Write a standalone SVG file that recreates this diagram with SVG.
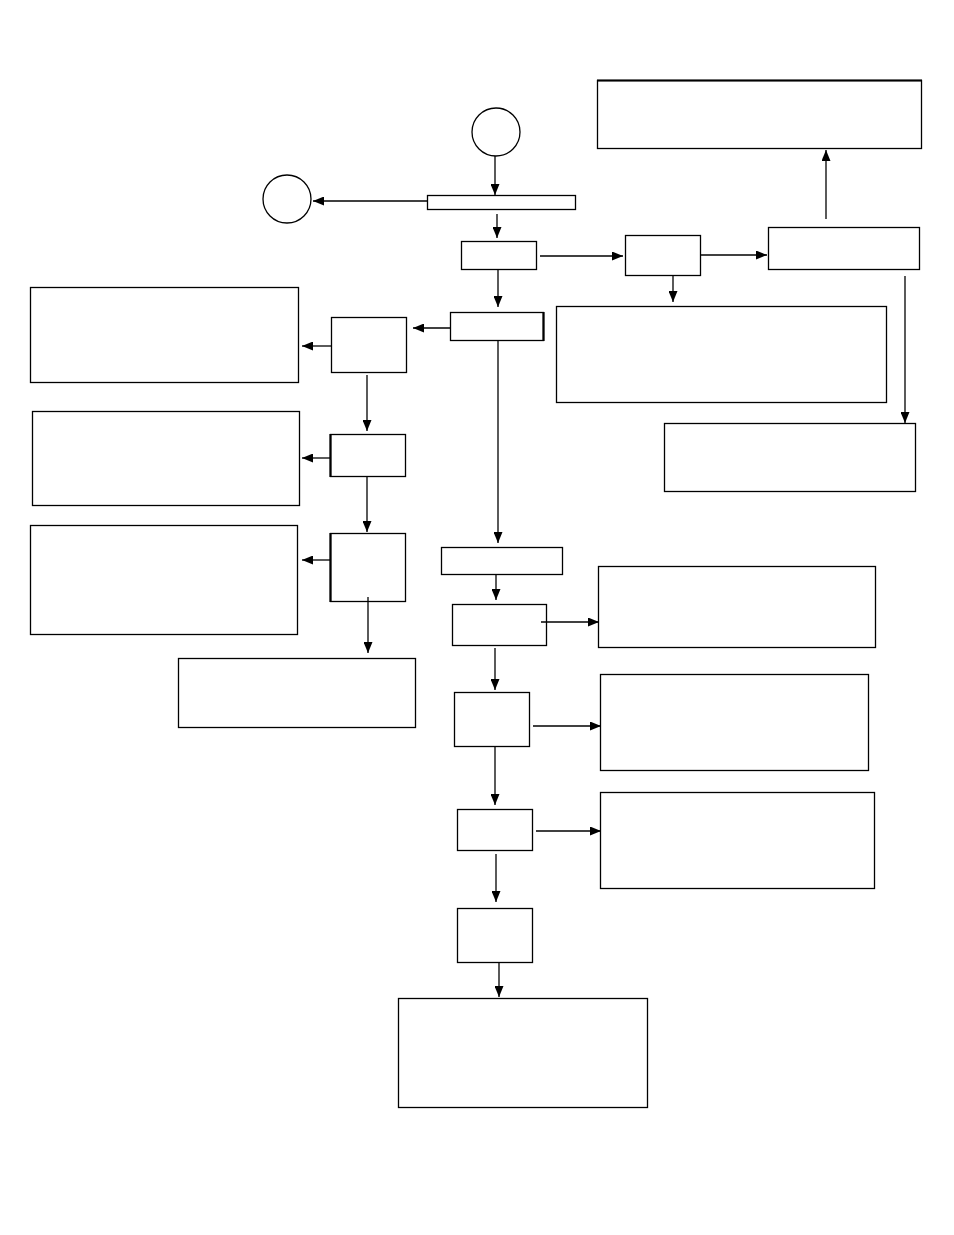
<svg xmlns="http://www.w3.org/2000/svg" width="954" height="1235" viewBox="0 0 954 1235">
<style>
.n{fill:#fff;stroke:#000;stroke-width:1.3}
.c{fill:none;stroke:#000;stroke-width:1.3}
.t{stroke:#000;stroke-width:2.2}
</style>
<defs>
<marker id="ah" markerUnits="userSpaceOnUse" markerWidth="11" markerHeight="9" refX="11" refY="4.5" orient="auto">
<path d="M0,0 L11,4.5 L0,9 z" fill="#000"/>
</marker>
</defs>
<rect width="954" height="1235" fill="#fff"/>
<g id="start"><circle class="n" cx="496" cy="132" r="24"/></g>
<g id="connector-circle"><circle class="n" cx="287" cy="199" r="24"/></g>
<g id="bar"><rect class="n" x="427.5" y="195.5" width="148" height="14"/></g>
<g id="boxA"><rect class="n" x="461.5" y="241.5" width="75" height="28"/></g>
<g id="boxB"><rect class="n" x="450.5" y="312.5" width="93" height="28"/><line class="t" x1="543.5" y1="312" x2="543.5" y2="341"/></g>
<g id="boxC"><rect class="n" x="625.5" y="235.5" width="75" height="40"/></g>
<g id="boxD"><rect class="n" x="768.5" y="227.5" width="151" height="42"/></g>
<g id="boxE"><rect class="n" x="597.5" y="80.5" width="324" height="68"/><line class="t" x1="597" y1="80.5" x2="922" y2="80.5"/></g>
<g id="boxF"><rect class="n" x="556.5" y="306.5" width="330" height="96"/></g>
<g id="boxG"><rect class="n" x="664.5" y="423.5" width="251" height="68"/></g>
<g id="boxH"><rect class="n" x="331.5" y="317.5" width="75" height="55"/></g>
<g id="boxI"><rect class="n" x="30.5" y="287.5" width="268" height="95"/></g>
<g id="boxJ"><rect class="n" x="330.5" y="434.5" width="75" height="42"/><line class="t" x1="330.5" y1="434" x2="330.5" y2="477"/></g>
<g id="boxK"><rect class="n" x="32.5" y="411.5" width="267" height="94"/></g>
<g id="boxL"><rect class="n" x="330.5" y="533.5" width="75" height="68"/><line class="t" x1="330.5" y1="533" x2="330.5" y2="602"/></g>
<g id="boxM"><rect class="n" x="30.5" y="525.5" width="267" height="109"/></g>
<g id="boxN"><rect class="n" x="178.5" y="658.5" width="237" height="69"/></g>
<g id="boxO"><rect class="n" x="441.5" y="547.5" width="121" height="27"/></g>
<g id="boxP"><rect class="n" x="452.5" y="604.5" width="94" height="41"/></g>
<g id="boxQ"><rect class="n" x="598.5" y="566.5" width="277" height="81"/></g>
<g id="boxR"><rect class="n" x="454.5" y="692.5" width="75" height="54"/></g>
<g id="boxS"><rect class="n" x="600.5" y="674.5" width="268" height="96"/></g>
<g id="boxT"><rect class="n" x="457.5" y="809.5" width="75" height="41"/></g>
<g id="boxU"><rect class="n" x="600.5" y="792.5" width="274" height="96"/></g>
<g id="boxV"><rect class="n" x="457.5" y="908.5" width="75" height="54"/></g>
<g id="boxW"><rect class="n" x="398.5" y="998.5" width="249" height="109"/></g>
<g id="connectors">
<line class="c" x1="495" y1="156" x2="495" y2="195" marker-end="url(#ah)"/>
<line class="c" x1="427" y1="201" x2="313" y2="201" marker-end="url(#ah)"/>
<line class="c" x1="497" y1="214" x2="497" y2="238" marker-end="url(#ah)"/>
<line class="c" x1="498" y1="270" x2="498" y2="307" marker-end="url(#ah)"/>
<line class="c" x1="540" y1="256" x2="623" y2="256" marker-end="url(#ah)"/>
<line class="c" x1="701" y1="255" x2="767" y2="255" marker-end="url(#ah)"/>
<line class="c" x1="826" y1="219" x2="826" y2="150" marker-end="url(#ah)"/>
<line class="c" x1="673" y1="276" x2="673" y2="302" marker-end="url(#ah)"/>
<line class="c" x1="905" y1="276" x2="905" y2="423" marker-end="url(#ah)"/>
<line class="c" x1="450" y1="328" x2="413" y2="328" marker-end="url(#ah)"/>
<line class="c" x1="331" y1="346" x2="302" y2="346" marker-end="url(#ah)"/>
<line class="c" x1="367" y1="375" x2="367" y2="431" marker-end="url(#ah)"/>
<line class="c" x1="330" y1="458" x2="302" y2="458" marker-end="url(#ah)"/>
<line class="c" x1="367" y1="477" x2="367" y2="532" marker-end="url(#ah)"/>
<line class="c" x1="330" y1="560" x2="302" y2="560" marker-end="url(#ah)"/>
<line class="c" x1="368" y1="597" x2="368" y2="653" marker-end="url(#ah)"/>
<line class="c" x1="498" y1="341" x2="498" y2="543" marker-end="url(#ah)"/>
<line class="c" x1="496" y1="575" x2="496" y2="600" marker-end="url(#ah)"/>
<line class="c" x1="541" y1="622" x2="599" y2="622" marker-end="url(#ah)"/>
<line class="c" x1="495" y1="648" x2="495" y2="690" marker-end="url(#ah)"/>
<line class="c" x1="533" y1="726" x2="601" y2="726" marker-end="url(#ah)"/>
<line class="c" x1="495" y1="747" x2="495" y2="805" marker-end="url(#ah)"/>
<line class="c" x1="536" y1="831" x2="601" y2="831" marker-end="url(#ah)"/>
<line class="c" x1="496" y1="854" x2="496" y2="902" marker-end="url(#ah)"/>
<line class="c" x1="499" y1="963" x2="499" y2="997" marker-end="url(#ah)"/>
</g>
</svg>
